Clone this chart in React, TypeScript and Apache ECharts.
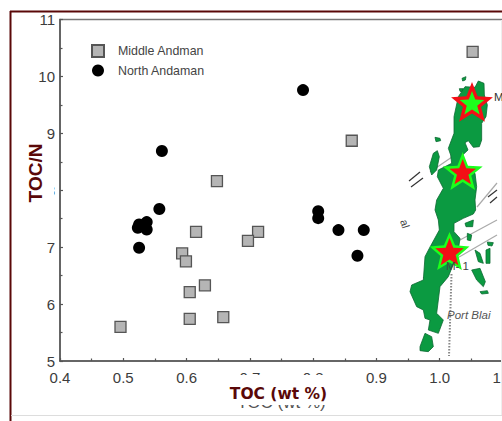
import React, { useEffect, useRef } from "react";
import * as echarts from "echarts";

const middleAndman: number[][] = [
  [1.052, 10.43], [0.861, 8.87], [0.648, 8.16], [0.615, 7.27], [0.713, 7.27], [0.697, 7.11],
  [0.593, 6.89], [0.599, 6.75], [0.629, 6.33], [0.605, 6.21], [0.658, 5.77], [0.605, 5.74], [0.4956, 5.6],
];
const northAndaman: number[][] = [
  [0.784, 9.76], [0.561, 8.69], [0.557, 7.67], [0.523, 7.34], [0.525, 7.4], [0.537, 7.44],
  [0.537, 7.31], [0.525, 6.99], [0.808, 7.63], [0.808, 7.51], [0.84, 7.3], [0.88, 7.3], [0.87, 6.85],
];
const seriesNames = ["Middle Andman", "North Andaman"];
const xTitle = "TOC (wt %)";
const yTitle = "TOC/N";

// Inset map outlines, traced at 3x from the picture's (380,0) corner
const mainland: number[][] = [
  [295,243],[312,250],[313,285],[322,315],[318,350],[305,370],[305,420],[298,440],[280,442],[265,422],[255,428],
  [264,450],[248,465],[248,490],[285,520],[290,560],[285,600],[287,630],[280,642],[250,655],[222,670],[222,695],
  [240,715],[235,750],[225,780],[205,830],[180,860],[175,900],[170,940],[190,960],[175,1000],[145,990],[150,960],
  [135,955],[130,930],[110,920],[90,875],[95,855],[130,840],[135,770],[148,745],[178,690],[175,660],[165,630],[170,600],[190,565],
  [172,530],[175,510],[215,490],[212,465],[205,445],[222,400],[222,350],[235,290],[255,260],[285,262],
];
const islets: number[][][] = [
  [[160,460],[172,452],[178,470],[170,510],[155,525],[148,500]],
  [[165,412],[180,415],[182,422],[168,425]],
  [[246,235],[258,230],[256,240],[248,243]],
  [[238,266],[250,266],[248,275],[240,274]],
  [[120,1040],[135,1000],[155,1010],[160,1040],[145,1055],[120,1052]],
  [[275,810],[300,805],[316,845],[310,860],[290,840]],
  [[300,875],[322,872],[325,880],[305,882]],
  [[318,750],[330,745],[330,790],[318,790]],
  [[285,750],[300,760],[310,790],[295,785]],
  [[255,670],[280,660],[278,680],[258,680]],
  [[262,700],[275,705],[272,722],[262,720]],
  [[322,726],[340,728],[336,738],[324,736]],
  [[172,705],[190,700],[190,728],[175,728]],
];

function scalePts(points: number[][]) {
  return points.map(([u, v]) => [380 + u / 3, v / 3]);
}
function star(cx: number, cy: number, R: number, r: number) {
  const pts: number[][] = [];
  for (let i = 0; i < 10; i++) {
    const a = -Math.PI / 2 + (i * Math.PI) / 5;
    const rad = i % 2 === 0 ? R : r;
    pts.push([cx + rad * Math.cos(a), cy + rad * Math.sin(a)]);
  }
  return pts;
}
const mapGreen = "#0b9a41";
const mapEdge = "#0c6a32";
const bright = "#1cff1c";
const red = "#f40f16";
const dark = "#5a0808";
const line = (x1: number, y1: number, x2: number, y2: number, stroke = "#aaa", lineWidth = 1.2, extra: any = {}) => ({
  type: "line", z: 100, shape: { x1, y1, x2, y2 }, style: { stroke, lineWidth, ...extra },
});
const poly = (points: number[][], fill: string, z = 100, stroke?: string) => ({
  type: "polygon", z, shape: { points }, style: { fill, stroke: stroke ?? "none", lineWidth: 0.8 },
});

export default function App() {
  const ref = useRef<HTMLDivElement>(null);
  useEffect(() => {
    if (!ref.current) return;
    const chart = echarts.init(ref.current, undefined, { renderer: "svg" });
    const axisText = { color: "#3c3c3c", fontFamily: "Liberation Sans", fontSize: 15 };
    chart.setOption({
      animation: false,
      backgroundColor: "#fff",
      grid: { show: true, left: 60, top: 19.5, width: 443, height: 341.5, borderColor: "#777", borderWidth: 1.5, outerBoundsMode: "none" },
      legend: {
        orient: "vertical", left: 91, top: 44, padding: 0, itemWidth: 12, itemHeight: 12, itemGap: 6.5,
        data: seriesNames, textStyle: { color: "#444", fontFamily: "Liberation Sans", fontSize: 12.4, padding: [0, 0, 0, 9] },
      },
      xAxis: {
        type: "value", min: 0.4, max: 1.1, interval: 0.1,
        name: xTitle, nameLocation: "middle", nameGap: 33,
        nameTextStyle: { color: "#555", fontFamily: "Liberation Sans", fontSize: 17 },
        axisLine: { lineStyle: { color: "#555", width: 1.5 } },
        axisTick: { inside: true, length: 3, lineStyle: { color: "#555", width: 1.2 } },
        minorTick: { show: true, splitNumber: 2, length: 2.5, lineStyle: { color: "#555", width: 1.2 } },
        splitLine: { show: false },
        axisLabel: { ...axisText, margin: 9, formatter: (v: number) => v.toFixed(1), showMaxLabel: true },
      },
      yAxis: {
        type: "value", min: 5, max: 11, interval: 1,
        axisLine: { show: true, lineStyle: { color: "#555", width: 1.5 } },
        axisTick: { show: true, inside: true, length: 3, lineStyle: { color: "#555", width: 1.2 } },
        minorTick: { show: true, splitNumber: 2, length: 2.5, lineStyle: { color: "#555", width: 1.2 } },
        splitLine: { show: false },
        axisLabel: { ...axisText, margin: 5 },
      },
      series: [
        {
          name: seriesNames[0], type: "scatter", data: middleAndman, symbol: "rect", symbolSize: 11,
          itemStyle: { color: "#b5b5b5", borderColor: "#555", borderWidth: 1.3, opacity: 1 },
        },
        {
          name: seriesNames[1], type: "scatter", data: northAndaman, symbol: "circle", symbolSize: 12,
          itemStyle: { color: "#000", opacity: 1 },
        },
      ],
      graphic: {
        elements: [
          // covers over the older labels
          { type: "rect", z: 90, shape: { x: 14, y: 178, width: 40, height: 24 }, style: { fill: "#fff" } },
          { type: "rect", z: 90, shape: { x: 215, y: 375, width: 125, height: 30 }, style: { fill: "#fff" } },
          // frame
          line(10, 11.5, 502, 11.5, dark, 2),
          line(10.5, 11, 10.5, 421, dark, 2),
          line(11, 415.5, 502, 415.5, "#ddd", 1),
          line(501.5, 20, 501.5, 415, "#eee", 1),
          // fault lines
          line(497, 220, 447, 247),
          line(497, 235, 423, 278),
          line(477, 207, 497, 183),
          line(430, 172, 452, 157),
          line(409, 181, 420, 172, "#333", 1.2),
          line(411, 187, 423, 178, "#333", 1.2),
          line(488, 197, 497, 190, "#333", 1.2),
          line(490, 203, 497, 197, "#333", 1.2),
          line(451.5, 274, 449, 356, "#888", 2, { lineDash: [1.5, 1.5] }),
          ...islets.map((p) => poly(scalePts(p), mapGreen, 101, mapEdge)),
          poly(scalePts(mainland), mapGreen, 101, mapEdge),
          // stars
          poly(star(472, 104, 22, 9.5), red, 110),
          poly(star(472, 104, 13, 5.5), bright, 111),
          poly(star(462.7, 173, 21, 9), bright, 110),
          poly(star(462.7, 173, 14, 6), red, 111),
          poly(star(449.5, 253, 21, 9.5), bright, 110),
          poly(star(449.5, 253, 15, 6.5), red, 111),
          // map labels
          { type: "text", z: 112, x: 447, y: 309, style: { text: "Port Blai", fill: "#555", font: "italic 11.5px Liberation Sans" } },
          { type: "text", z: 112, x: 446, y: 260, style: { text: "M- 1", fill: "#444", font: "11.5px Liberation Sans" } },
          { type: "text", z: 112, x: 494, y: 91, style: { text: "M", fill: "#333", font: "11.5px Liberation Sans" } },
          { type: "text", z: 112, x: 409, y: 218, rotation: -Math.PI * 0.4, style: { text: "al", fill: "#444", font: "11px Liberation Sans" } },
          // titles
          {
            type: "text", z: 120, x: 35.5, y: 173, rotation: Math.PI / 2,
            style: { text: yTitle, fill: dark, font: "bold 19px Liberation Sans", align: "center", verticalAlign: "middle" },
          },
          {
            type: "text", z: 120, x: 278.5, y: 394,
            style: { text: xTitle, fill: dark, font: "bold 15.5px DejaVu Sans", align: "center", verticalAlign: "middle" },
          },
        ],
      },
    });
    return () => chart.dispose();
  }, []);
  return <div ref={ref} style={{ position: "fixed", left: 0, top: 0, width: 502, height: 421 }} />;
}
